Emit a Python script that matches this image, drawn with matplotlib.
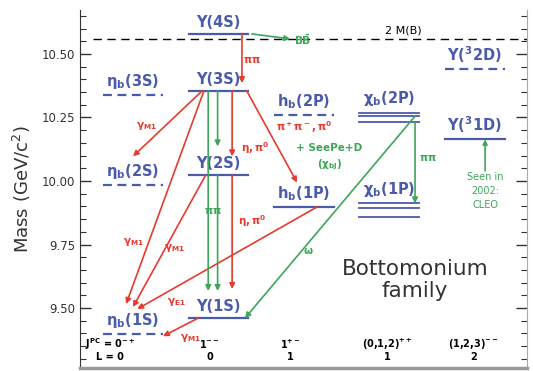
import matplotlib.pyplot as plt
from matplotlib.ticker import MultipleLocator, FormatStrFormatter

plt.rcParams['mathtext.default'] = 'regular'

BLUE = '#4b5bab'
RED = '#e63b2e'
GREEN = '#3da65a'

# columns: 0 eta_b, 1 Upsilon(nS), 2 h_b, 3 chi_b, 4 Upsilon(nD)
level_keys = ['Y4S', 'Y3S', 'Y2S', 'Y1S', 'eta3S', 'eta2S', 'eta1S',
              'hb2P', 'hb1P', 'Y2D', 'Y1D']
level_labels = ['Υ(4S)', 'Υ(3S)', 'Υ(2S)', 'Υ(1S)',
                r'$\eta_b$(3S)', r'$\eta_b$(2S)', r'$\eta_b$(1S)',
                r'h$_b$(2P)', r'h$_b$(1P)', 'Υ($^3$2D)', 'Υ($^3$1D)']
level_cols = [1, 1, 1, 1, 0, 0, 0, 2, 2, 4, 4]
level_mass = [10.579, 10.355, 10.023, 9.460, 10.340, 9.985, 9.399,
              10.260, 9.899, 10.440, 10.164]
level_dashed = [False, False, False, False, True, True, True,
                True, False, True, False]

# chi_bJ triplets (J = 0, 1, 2)
chi_labels = [r'$\chi_b$(2P)', r'$\chi_b$(1P)']
chi_2p = [10.232, 10.255, 10.269]
chi_1p = [9.859, 9.893, 9.912]
m_2B = 10.559

jpc_labels = [r'J$^{PC}$ = 0$^{-+}$', r'1$^{--}$', r'1$^{+-}$',
              r'(0,1,2)$^{++}$', r'(1,2,3)$^{--}$']
l_labels = ['L = 0', '0', '1', '1', '2']

mass = dict(zip(level_keys, level_mass))
col = dict(zip(level_keys, level_cols))
mass['chi2P'] = chi_2p[1]
mass['chi2P_lo'] = chi_2p[0]
mass['chi1P_hi'] = chi_1p[2]
col['chi2P'] = col['chi2P_lo'] = col['chi1P_hi'] = 3
mass['2B'] = m_2B
col['2B'] = 2

# transitions: from, to, x offset at start, x offset at end, stop short (GeV), colour
transitions = [
    ('Y4S', 'Y3S', 0.275, 0.275, 0.030, RED),
    ('Y4S', '2B', 0.39, -0.16, 0.0, GREEN),
    ('Y3S', 'eta2S', -0.19, 0.0, 0.112, RED),
    ('Y3S', 'eta1S', -0.17, -0.08, 0.117, RED),
    ('Y2S', 'eta1S', -0.15, 0.0, 0.105, RED),
    ('hb1P', 'eta1S', 0.16, 0.05, 0.097, RED),
    ('Y1S', 'eta1S', -0.24, 0.35, -0.01, RED),
    ('Y3S', 'hb1P', 0.33, -0.08, 0.095, RED),
    ('Y3S', 'Y2S', 0.16, 0.16, 0.074, RED),
    ('Y2S', 'Y1S', 0.16, 0.16, 0.115, RED),
    ('Y3S', 'Y2S', -0.01, -0.01, 0.113, GREEN),
    ('Y3S', 'Y1S', -0.12, -0.12, 0.107, GREEN),
    ('Y2S', 'Y1S', -0.01, -0.01, 0.107, GREEN),
    ('chi2P', 'Y1S', 0.30, 0.31, 0.0, GREEN),
    ('chi2P_lo', 'chi1P_hi', 0.30, 0.30, 0.0, GREEN),
]

# transition labels: text, column, mass, colour
trans_text = [
    (r'$\pi\pi$', 1.39, 10.476, RED),
    (r'$B\bar{B}$', 1.99, 10.556, GREEN),
    (r'$\gamma_{M1}$', 0.16, 10.215, RED),
    (r'$\gamma_{M1}$', 0.0, 9.760, RED),
    (r'$\gamma_{M1}$', 0.49, 9.737, RED),
    (r'$\gamma_{E1}$', 0.51, 9.524, RED),
    (r'$\gamma_{M1}$', 0.67, 9.383, RED),
    (r'$\eta,\pi^0$', 1.43, 10.128, RED),
    (r'$\eta,\pi^0$', 1.40, 9.844, RED),
    (r'$\pi^+\pi^-,\pi^0$', 2.0, 10.213, RED),
    (r'$\pi\pi$', 0.94, 9.883, GREEN),
    (r'$\omega$', 2.05, 9.725, GREEN),
    (r'$\pi\pi$', 3.45, 10.090, GREEN),
    ('+ SeePe+D', 2.30, 10.128, GREEN),
    (r'($\chi_{bJ}$)', 2.30, 10.065, GREEN),
]

HALF = 0.35

fig = plt.figure(figsize=(5.33, 3.71), dpi=100)
ax = fig.add_axes([80 / 533, 3 / 371, 447 / 533, 358 / 371])
ax.set_xlim(-0.62, 4.61)
ax.set_ylim(9.264, 10.673)

ax.yaxis.set_major_locator(MultipleLocator(0.25))
ax.yaxis.set_minor_locator(MultipleLocator(0.05))
ax.yaxis.set_major_formatter(FormatStrFormatter('%.2f'))
ax.tick_params(axis='y', which='both', direction='in', right=True,
               labelsize=8.5, colors='#333333')
ax.tick_params(axis='y', which='major', length=8, width=1)
ax.tick_params(axis='y', which='minor', length=4, width=0.8)
ax.set_xticks([])
ax.spines['top'].set_visible(False)
ax.spines['right'].set_color('#aaaaaa')
ax.spines['bottom'].set_color('#9a9a9a')
ax.spines['bottom'].set_linewidth(2.5)
ax.spines['left'].set_color('#333333')
ax.set_ylabel('Mass (GeV/c$^2$)', fontsize=13, color='#333333', labelpad=6)

# open-bottom threshold
ax.axhline(m_2B, xmin=0.03, xmax=1, color='black', lw=1, ls=(0, (6, 4)))
ax.text(3.16, m_2B + 0.012, '2 M(B)', fontsize=8, ha='center', va='bottom')

# levels
for key, lab, c, m, dashed in zip(level_keys, level_labels, level_cols,
                                  level_mass, level_dashed):
    ls = (0, (4, 2.5)) if dashed else '-'
    ax.plot([c - HALF, c + HALF], [m, m], color=BLUE, lw=1.6, ls=ls)
    ax.text(c, m + 0.016, lab, color=BLUE, fontsize=10.5, ha='center',
            va='bottom', fontweight='bold')

for lab, masses in zip(chi_labels, [chi_2p, chi_1p]):
    for m in masses:
        ax.plot([3 - HALF, 3 + HALF], [m, m], color=BLUE, lw=1.3)
    ax.text(3, max(masses) + 0.018, lab, color=BLUE, fontsize=10.5,
            ha='center', va='bottom', fontweight='bold')

# transitions
for a, b, dx0, dx1, gap, colr in transitions:
    ax.annotate('', xy=(col[b] + dx1, mass[b] + gap),
                xytext=(col[a] + dx0, mass[a]),
                arrowprops=dict(arrowstyle='-|>', color=colr, lw=1.2,
                                mutation_scale=8, shrinkA=0, shrinkB=0))

for txt, x, y, colr in trans_text:
    ax.text(x, y, txt, color=colr, fontsize=7.5, ha='center', va='center',
            fontweight='bold')

# observation note for the 1D state
ax.annotate('', xy=(4.12, mass['Y1D']), xytext=(4.12, 10.04),
            arrowprops=dict(arrowstyle='-|>', color=GREEN, lw=1.2,
                            mutation_scale=7, shrinkA=0, shrinkB=0))
ax.text(4.12, 10.035, 'Seen in\n2002:\nCLEO', color=GREEN, fontsize=7,
        ha='center', va='top', linespacing=1.5)

ax.text(3.30, 9.61, 'Bottomonium\nfamily', fontsize=15.5, color='#333333',
        ha='center', va='center', linespacing=1.1)

# quantum numbers along the bottom
qn_x = [-0.27, 0.9, 1.84, 2.98, 3.98]
for x, jpc, l in zip(qn_x, jpc_labels, l_labels):
    ax.text(x, 9.358, jpc, fontsize=7, ha='center', va='center',
            fontweight='bold')
    ax.text(x, 9.306, l, fontsize=7, ha='center', va='center',
            fontweight='bold')

fig.savefig('out.png', dpi=100)
plt.close(fig)
